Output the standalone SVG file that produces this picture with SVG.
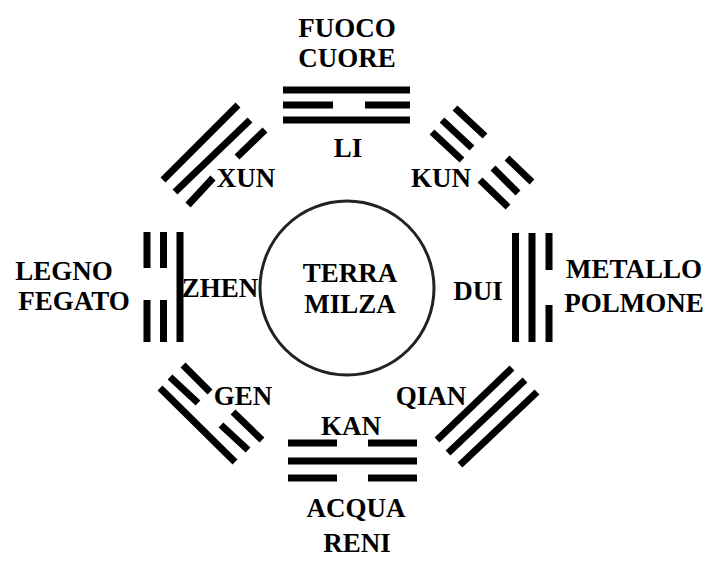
<svg xmlns="http://www.w3.org/2000/svg" width="723" height="562" viewBox="0 0 723 562">
<style>
text{font-family:"Liberation Serif","Times New Roman",serif;font-weight:bold;font-size:27px;fill:#000;text-anchor:middle}
.y{stroke:#000;stroke-width:7;stroke-linecap:butt;fill:none}
.c{fill:none;stroke:#222;stroke-width:3}
</style>
<rect width="723" height="562" fill="#fff"/>
<g id="center">
<circle class="c" cx="347" cy="288" r="87"/>
<text x="350" y="282">TERRA</text>
<text x="350" y="313">MILZA</text>
</g>
<g id="li">
<text x="347" y="37">FUOCO</text>
<text x="347" y="67">CUORE</text>
<path class="y" d="M283 90H410M283 105H333M365 105H410M283 120H410"/>
<text x="348" y="157">LI</text>
</g>
<g id="kun">
<path class="y" d="M455 108L485 136M507 158L532 182M442 120L472 148M493 168L518 193M432 132L462 160M480 180L508 207"/>
<text x="441" y="187">KUN</text>
</g>
<g id="dui">
<path class="y" d="M515.5 233V342M532 233V342M549 233V270M549 305V342"/>
<text x="478" y="300">DUI</text>
<text x="634" y="278">METALLO</text>
<text x="634" y="312">POLMONE</text>
</g>
<g id="qian">
<path class="y" d="M437 440L512 368M448 453L525 380M460 465L537 392"/>
<text x="431" y="405">QIAN</text>
</g>
<g id="kan">
<text x="351" y="435">KAN</text>
<path class="y" d="M288 443H337M368 443H417M288 461H417M288 478H337M368 478H417"/>
<text x="356" y="517">ACQUA</text>
<text x="357" y="552">RENI</text>
</g>
<g id="gen">
<path class="y" d="M160 388L235 462M170 377L198 403M221 425L248 450M183 365L210 392M233 412L262 440"/>
<text x="243" y="405">GEN</text>
</g>
<g id="zhen">
<path class="y" d="M180 232V342M163.5 232V268M163.5 300V342M147 232V268M147 300V342"/>
<text x="220" y="297">ZHEN</text>
<text x="64" y="280">LEGNO</text>
<text x="74" y="310">FEGATO</text>
</g>
<g id="xun">
<path class="y" d="M163 180L238 105M175 192L250 120M188 205L213 178M237 157L265 130"/>
<text x="246" y="187">XUN</text>
</g>
<g id="connectors"/>
</svg>
